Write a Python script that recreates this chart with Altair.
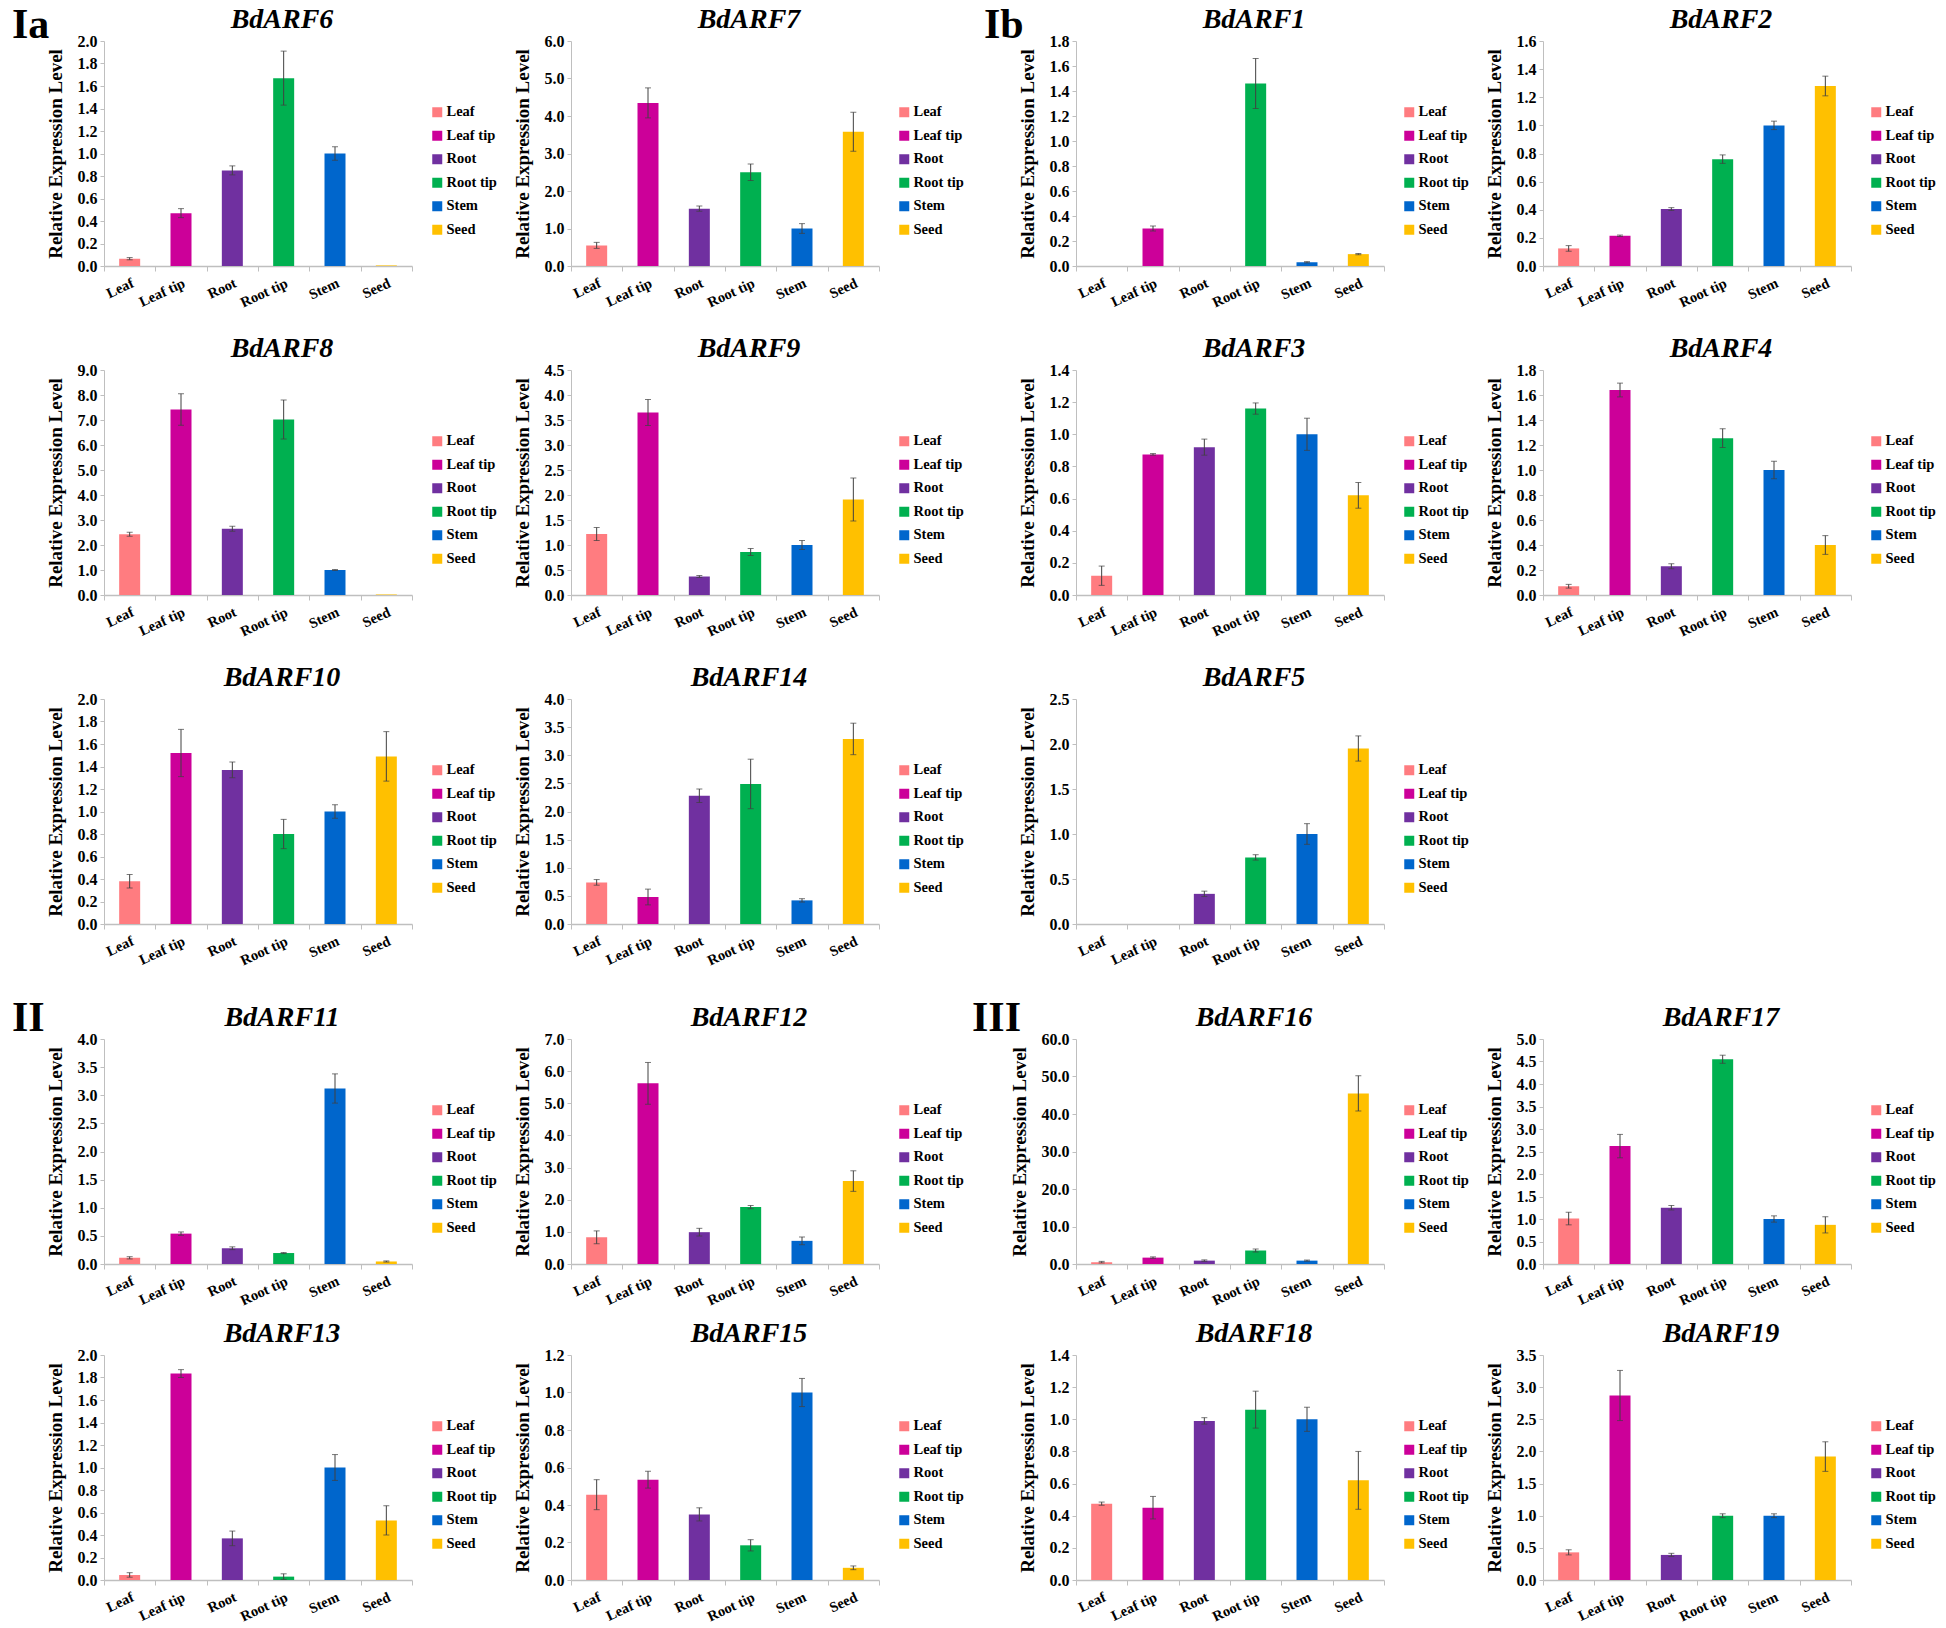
import altair as alt
import pandas as pd

TISSUES = ["Leaf", "Leaf tip", "Root", "Root tip", "Stem", "Seed"]
COLORS = ["#FF7C80", "#CC0099", "#7030A0", "#00B050", "#0066CC", "#FFC000"]

ARF6_VAL = [0.065, 0.47, 0.85, 1.67, 1.0, 0.005]
ARF6_ERR = [0.01, 0.04, 0.04, 0.24, 0.06, 0.0]
ARF7_VAL = [0.55, 4.35, 1.53, 2.5, 1.0, 3.58]
ARF7_ERR = [0.08, 0.40, 0.07, 0.22, 0.13, 0.52]
ARF1_VAL = [0.0, 0.30, 0.0, 1.46, 0.03, 0.095]
ARF1_ERR = [0.0, 0.02, 0.0, 0.20, 0.005, 0.005]
ARF2_VAL = [0.125, 0.215, 0.405, 0.76, 1.0, 1.28]
ARF2_ERR = [0.02, 0.005, 0.01, 0.03, 0.03, 0.07]
ARF8_VAL = [2.43, 7.42, 2.65, 7.02, 1.0, 0.02]
ARF8_ERR = [0.08, 0.63, 0.10, 0.78, 0.02, 0.0]
ARF9_VAL = [1.22, 3.65, 0.37, 0.86, 1.0, 1.91]
ARF9_ERR = [0.13, 0.26, 0.02, 0.07, 0.09, 0.43]
ARF3_VAL = [0.12, 0.875, 0.92, 1.16, 1.0, 0.62]
ARF3_ERR = [0.06, 0.005, 0.05, 0.035, 0.10, 0.08]
ARF4_VAL = [0.07, 1.64, 0.23, 1.255, 1.0, 0.40]
ARF4_ERR = [0.015, 0.055, 0.02, 0.075, 0.07, 0.075]
ARF10_VAL = [0.38, 1.52, 1.37, 0.80, 1.0, 1.49]
ARF10_ERR = [0.06, 0.21, 0.07, 0.13, 0.06, 0.22]
ARF14_VAL = [0.74, 0.48, 2.28, 2.49, 0.42, 3.29]
ARF14_ERR = [0.05, 0.14, 0.12, 0.44, 0.03, 0.28]
ARF5_VAL = [0.0, 0.0, 0.335, 0.74, 1.0, 1.95]
ARF5_ERR = [0.0, 0.0, 0.03, 0.03, 0.115, 0.14]
ARF11_VAL = [0.11, 0.54, 0.28, 0.195, 3.12, 0.045]
ARF11_ERR = [0.02, 0.03, 0.025, 0.01, 0.26, 0.01]
ARF12_VAL = [0.83, 5.62, 0.99, 1.77, 0.72, 2.58]
ARF12_ERR = [0.20, 0.65, 0.12, 0.05, 0.12, 0.32]
ARF16_VAL = [0.5, 1.7, 0.9, 3.6, 0.9, 45.5]
ARF16_ERR = [0.2, 0.2, 0.2, 0.4, 0.15, 4.7]
ARF17_VAL = [1.01, 2.62, 1.25, 4.55, 1.0, 0.87]
ARF17_ERR = [0.14, 0.26, 0.05, 0.09, 0.07, 0.18]
ARF13_VAL = [0.045, 1.835, 0.37, 0.03, 1.0, 0.53]
ARF13_ERR = [0.02, 0.035, 0.065, 0.025, 0.115, 0.13]
ARF15_VAL = [0.455, 0.535, 0.35, 0.185, 1.0, 0.065]
ARF15_ERR = [0.08, 0.045, 0.035, 0.03, 0.075, 0.01]
ARF18_VAL = [0.475, 0.45, 0.99, 1.06, 1.0, 0.62]
ARF18_ERR = [0.01, 0.07, 0.02, 0.115, 0.075, 0.18]
ARF19_VAL = [0.43, 2.87, 0.39, 1.0, 1.0, 1.92]
ARF19_ERR = [0.04, 0.39, 0.025, 0.03, 0.03, 0.23]

# (gene, values, errors, y max, y step, section label)
TOP_LEFT = [
    ("BdARF6", ARF6_VAL, ARF6_ERR, 2.0, 0.2, "Ia"),
    ("BdARF7", ARF7_VAL, ARF7_ERR, 6.0, 1.0, None),
    ("BdARF8", ARF8_VAL, ARF8_ERR, 9.0, 1.0, None),
    ("BdARF9", ARF9_VAL, ARF9_ERR, 4.5, 0.5, None),
    ("BdARF10", ARF10_VAL, ARF10_ERR, 2.0, 0.2, None),
    ("BdARF14", ARF14_VAL, ARF14_ERR, 4.0, 0.5, None),
]
TOP_RIGHT = [
    ("BdARF1", ARF1_VAL, ARF1_ERR, 1.8, 0.2, "Ib"),
    ("BdARF2", ARF2_VAL, ARF2_ERR, 1.6, 0.2, None),
    ("BdARF3", ARF3_VAL, ARF3_ERR, 1.4, 0.2, None),
    ("BdARF4", ARF4_VAL, ARF4_ERR, 1.8, 0.2, None),
    ("BdARF5", ARF5_VAL, ARF5_ERR, 2.5, 0.5, None),
    None,
]
BOTTOM_LEFT = [
    ("BdARF11", ARF11_VAL, ARF11_ERR, 4.0, 0.5, "II"),
    ("BdARF12", ARF12_VAL, ARF12_ERR, 7.0, 1.0, None),
    ("BdARF13", ARF13_VAL, ARF13_ERR, 2.0, 0.2, None),
    ("BdARF15", ARF15_VAL, ARF15_ERR, 1.2, 0.2, None),
]
BOTTOM_RIGHT = [
    ("BdARF16", ARF16_VAL, ARF16_ERR, 60.0, 10.0, "III"),
    ("BdARF17", ARF17_VAL, ARF17_ERR, 5.0, 0.5, None),
    ("BdARF18", ARF18_VAL, ARF18_ERR, 1.4, 0.2, None),
    ("BdARF19", ARF19_VAL, ARF19_ERR, 3.5, 0.5, None),
]

# section label: (x, baseline y) relative to panel origin
SECTION_POS = {"Ia": (-92, -3), "Ib": (-92, -3), "II": (-92, -8), "III": (-104, -8)}

W, H = 308, 225
GRAY = "#BFBFBF"
SERIF = "Liberation Serif"


def make_panel(spec):
    if spec is None:
        return alt.Chart(pd.DataFrame({"v": [0]})).mark_point(opacity=0).encode(
            x=alt.X("v:Q", axis=None), y=alt.Y("v:Q", axis=None)
        ).properties(width=W, height=H)
    name, vals, errs, ymax, step, section = spec
    df = pd.DataFrame({"tissue": TISSUES, "value": vals, "err": errs})
    df["lo"] = df["value"] - df["err"]
    df["hi"] = df["value"] + df["err"]
    n = int(round(ymax / step))
    ticks = [round(i * step, 3) for i in range(n + 1)]

    xaxis = alt.Axis(
        title=None, labelAngle=335, labelAlign="right", labelBaseline="top",
        labelFont=SERIF, labelFontWeight="bold",
        labelFontSize=14.5, labelColor="black", labelPadding=5,
        tickBand="extent", tickSize=5, tickColor=GRAY,
        domainColor=GRAY, domainWidth=1.5,
    )
    xscale = alt.Scale(paddingInner=0, paddingOuter=0)
    yaxis = alt.Axis(
        values=ticks, format=".1f", grid=False,
        title="Relative Expression Level", titleFont=SERIF, titleFontWeight="bold",
        titleFontSize=19, titleColor="black", titlePadding=12,
        labelFont=SERIF, labelFontWeight="bold", labelFontSize=16, labelColor="black",
        labelPadding=3, tickSize=4, tickColor=GRAY, domainColor=GRAY,
    )
    yscale = alt.Scale(domain=[0, ymax], nice=False, zero=True)

    def X():
        return alt.X("tissue:N", sort=TISSUES, scale=xscale, axis=xaxis)

    def Y(f):
        return alt.Y(f + ":Q", scale=yscale, axis=yaxis)

    base = alt.Chart(df)
    bars = base.mark_bar(size=21).encode(
        x=X(), y=Y("value"),
        color=alt.Color(
            "tissue:N",
            scale=alt.Scale(domain=TISSUES, range=COLORS),
            legend=alt.Legend(
                title=None, orient="none", legendX=326, legendY=64,
                symbolType="square", symbolSize=100, symbolStrokeWidth=0,
                labelFont=SERIF, labelFontWeight="bold", labelFontSize=14.5,
                labelColor="black", labelOffset=2, rowPadding=8.5,
            ),
        ),
    )
    eb = base.transform_filter("datum.err > 0")
    rule = eb.mark_rule(color="#404040", strokeWidth=1).encode(
        x=X(), y=Y("lo"), y2="hi:Q"
    )
    cap_lo = eb.mark_tick(color="#404040", size=6, thickness=1).encode(x=X(), y=Y("lo"))
    cap_hi = eb.mark_tick(color="#404040", size=6, thickness=1).encode(x=X(), y=Y("hi"))
    title = alt.Chart(pd.DataFrame({"t": [name]})).mark_text(
        font=SERIF, fontStyle="italic", fontWeight="bold", fontSize=28,
        align="center", baseline="middle", color="black",
    ).encode(text="t:N", x=alt.value(178), y=alt.value(-21))
    layers = [bars, rule, cap_lo, cap_hi, title]
    if section:
        sx, sy = SECTION_POS[section]
        layers.append(
            alt.Chart(pd.DataFrame({"t": [section]})).mark_text(
                font=SERIF, fontWeight="bold", fontSize=42,
                align="left", baseline="alphabetic", color="black",
            ).encode(text="t:N", x=alt.value(sx), y=alt.value(sy))
        )
    return alt.layer(*layers).properties(width=W, height=H)


def indep(c):
    return c.resolve_scale(x="independent", y="independent", color="independent").resolve_legend(
        color="independent"
    )


def block(specs, row_gap):
    return indep(alt.concat(
        *[make_panel(p) for p in specs], columns=2,
        spacing={"row": row_gap, "column": 159}, bounds="flush",
    ))


top = indep(alt.hconcat(block(TOP_LEFT, 104), block(TOP_RIGHT, 104), spacing=20))
bottom = indep(alt.hconcat(block(BOTTOM_LEFT, 91), block(BOTTOM_RIGHT, 91), spacing=8))

chart = indep(alt.vconcat(top, bottom, spacing=29)).configure_view(stroke=None).properties(
    padding={"top": -4, "left": 4, "right": 0, "bottom": 0}, background="white"
)

chart.save("out.html", embed_options={"renderer": "svg", "actions": False})
